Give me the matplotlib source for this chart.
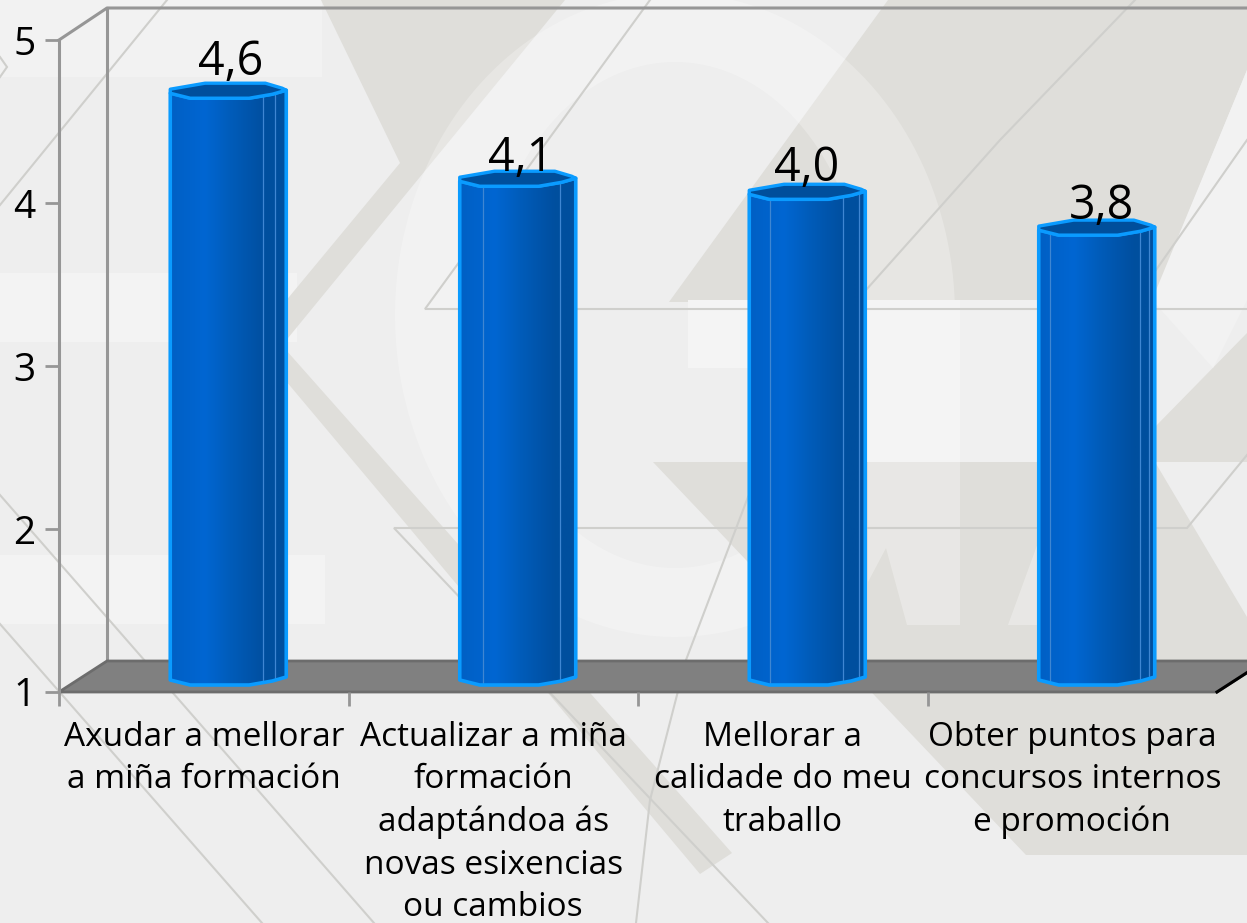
import numpy as np
import matplotlib
matplotlib.use('Agg')
import matplotlib.pyplot as plt
from matplotlib.colors import LinearSegmentedColormap
from matplotlib.patches import Polygon, Rectangle, PathPatch
from matplotlib.path import Path

plt.rcParams['font.family'] = ['Open Sans', 'DejaVu Sans']

categories = ['Axudar a mellorar\na miña formación',
              'Actualizar a miña\nformación\nadaptándoa ás\nnovas esixencias\nou cambios',
              'Mellorar a\ncalidade do meu\ntraballo',
              'Obter puntos para\nconcursos internos\ne promoción']
values = [4.6, 4.06, 3.98, 3.76]
y_ticks = [1, 2, 3, 4, 5]

W, H = 1247, 923
GREY = '#969696'
DARK = '#dfdeda'
THIN = '#cfcfcc'

fig = plt.figure(figsize=(W / 100, H / 100), dpi=100, facecolor='#eeeeee')

# fondo: marca de agua, en pixeles
bg = fig.add_axes([0, 0, 1, 1], zorder=0)
bg.set_xlim(0, W)
bg.set_ylim(H, 0)
bg.axis('off')


def shape(pts, color, alpha=1.0, z=1):
    bg.add_patch(Polygon(pts, closed=True, fc=color, ec='none', alpha=alpha, zorder=z))


def box(x0, y0, x1, y1, color, z=1):
    bg.add_patch(Rectangle((x0, y0), x1 - x0, y1 - y0, fc=color, ec='none', zorder=z))


box(0, 0, 322, 77, '#f2f2f2')
box(0, 273, 297, 342, '#f3f3f3')
box(0, 555, 325, 624, '#f3f3f3')

# K
shape([(321, 0), (565, 0), (270, 360), (270, 320), (400, 163)], DARK, z=2)

# formas da dereita
shape([(669, 302), (888, 0), (1247, 0), (1247, 70), (1152, 302)], DARK, z=2)
shape([(1152, 430), (1247, 333), (1247, 462), (1152, 462)], DARK, z=2)
shape([(1247, 70), (1152, 300), (1213, 368), (1247, 300)], '#f2f2f2', z=2)

# anel
t = np.linspace(0, 2 * np.pi, 200)
outer = np.column_stack([675 + 280 * np.cos(t), 315 + 322 * np.sin(t)])
inner = np.column_stack([675 + 190 * np.cos(t), 315 + 253 * np.sin(t)])[::-1]
ring = Path(np.vstack([outer, inner]),
            [Path.MOVETO] + [Path.LINETO] * 199 + [Path.MOVETO] + [Path.LINETO] * 199)
bg.add_patch(PathPatch(ring, fc='#ffffff', ec='none', alpha=0.25, zorder=3))

# por riba do anel
shape([(270, 332), (732, 853), (700, 874), (270, 362)], DARK, z=4)
shape([(653, 462), (1155, 462), (1247, 617), (1247, 855), (1026, 855)], DARK, z=4)
shape([(868, 462), (960, 462), (960, 625), (907, 625), (886, 548), (868, 582)], '#ffffff', 0.3, z=5)
shape([(1039, 540), (1039, 625), (1008, 625)], '#ffffff', 0.3, z=5)
box(688, 300, 960, 368, '#f4f4f4', z=5)
box(868, 368, 960, 462, '#f4f4f4', z=5)
box(960, 300, 1155, 462, '#f0f0f0', z=5)

# linas finas
thin_lines = [
    [(167, 0), (0, 205)],
    [(0, 57), (7, 67), (0, 77)],
    [(650, 0), (425, 309), (1247, 309)],
    [(1135, 0), (1000, 140), (866, 290), (800, 400), (748, 497), (686, 660), (650, 800), (636, 923)],
    [(1247, 140), (1156, 270), (1120, 309)],
    [(768, 923), (394, 528), (1187, 528), (1247, 455)],
    [(0, 495), (374, 923)],
    [(0, 624), (262, 923)],
]
for pts in thin_lines:
    xs, ys = zip(*pts)
    bg.plot(xs, ys, color=THIN, lw=1.5, zorder=6, solid_joinstyle='miter')

# grafico
ax = fig.add_axes([59 / W, (H - 692) / H, (1217 - 59) / W, 652 / H], zorder=1)
ax.patch.set_alpha(0)
x = np.arange(len(values))
ax.set_xlim(-0.5, 3.5)
ax.set_ylim(1, 5)

for side in ['top', 'right', 'bottom']:
    ax.spines[side].set_visible(False)
ax.spines['left'].set_color(GREY)
ax.spines['left'].set_linewidth(2.2)

ax.set_yticks(y_ticks)
ax.set_xticks(x, categories)
ax.set_xticks(np.arange(-0.5, 3.0, 1.0), minor=True)
ax.tick_params(axis='y', length=10, width=2, color=GREY, labelsize=28, pad=7)
ax.tick_params(axis='x', which='major', length=0, labelsize=24, pad=21)
ax.tick_params(axis='x', which='minor', length=10, width=2, color=GREY)
for lab in ax.get_xticklabels():
    lab.set_linespacing(1.37)

# paredes e chan
DEPTH_X = 48 / 289.5
DEPTH_Y = 31 / 163.0
TOP_Y = 5 + 32 / 163.0
ax.plot([-0.5 + DEPTH_X] * 2, [1 + DEPTH_Y, TOP_Y], color=GREY, lw=2.2, clip_on=False, zorder=1)
ax.plot([-0.5, -0.5 + DEPTH_X, 3.5 + DEPTH_X], [5, TOP_Y, TOP_Y], color=GREY, lw=2.2, clip_on=False, zorder=1)
floor = [(-0.5, 1), (-0.5 + DEPTH_X, 1 + DEPTH_Y), (3.5 + DEPTH_X, 1 + DEPTH_Y), (3.5, 1)]
ax.add_patch(Polygon(floor, closed=True, fc='#808080', ec='#6c6c6c', lw=2, clip_on=False, zorder=1))
ax.plot([3.5, 3.5 + DEPTH_X], [1, 1 + DEPTH_Y], color='black', lw=2.2, clip_on=False, zorder=2)

# barras
BAR_SHIFT = 24.5 / 289.5
BAR_HALF = 58 / 289.5
BAR_LIFT = 14 / 163.0
front_u = np.array([-1, -0.655, 0.36, 0.76, 1.0])
front_dy = np.array([-2, -7, -7, -3, 1]) / 163.0
back_u = np.array([-1, -0.4, 0.64, 0.93, 1.0])
back_dy = np.array([2, 8, 8, 3, 1]) / 163.0

body_cmap = LinearSegmentedColormap.from_list('body', [
    (0.0, '#0060c4'), (0.12, '#0062ca'), (0.3, '#0066d2'), (0.5, '#005dbc'),
    (0.7, '#0054aa'), (0.82, '#004f9f'), (1.0, '#004f9e')])
grad = np.linspace(0, 1, 128).reshape(1, -1)

facets = [[0.8, 0.9], [0.2, 0.86], [0.18, 0.81, 0.95], [0.1, 0.87, 0.95]]
label_lift = [16, 8, 11, 9]
label_shift = [2, 3, -1, 5]

for i, v in enumerate(values):
    cx = x[i] + BAR_SHIFT
    top = v + BAR_LIFT
    base = 1 + BAR_LIFT
    fx = cx + front_u * BAR_HALF
    bx = cx + back_u * BAR_HALF

    outline = list(zip(fx, base + front_dy)) + list(zip(fx[::-1], top + front_dy[::-1]))
    body = Polygon(outline, closed=True, fc='none', ec='#0a9bff', lw=2.6, zorder=4, clip_on=False, joinstyle='round')
    ax.add_patch(body)
    im = ax.imshow(grad, extent=[cx - BAR_HALF, cx + BAR_HALF, base - 0.05, top + 0.05],
                   aspect='auto', cmap=body_cmap, vmin=0, vmax=1, zorder=3, interpolation='bilinear')
    im.set_clip_path(Polygon(outline, closed=True, transform=ax.transData))

    for f in facets[i]:
        fu = 2 * f - 1
        ax.plot([cx + fu * BAR_HALF] * 2,
                [base + np.interp(fu, front_u, front_dy), top + np.interp(fu, front_u, front_dy)],
                color='#3f86d2', lw=0.9, zorder=3.5)

    cap = list(zip(fx, top + front_dy)) + list(zip(bx[::-1], top + back_dy[::-1]))
    ax.add_patch(Polygon(cap, closed=True, fc='#004f9c', ec='#0a9bff', lw=2.4, zorder=5, clip_on=False, joinstyle='round'))

    ax.annotate(f'{v:.1f}'.replace('.', ','), (cx, top), xytext=(label_shift[i] * 0.72, label_lift[i] * 0.72),
                textcoords='offset points', ha='center', va='baseline', fontsize=33.5, color='black', zorder=6)

ax.set_xlim(-0.5, 3.5)
ax.set_ylim(1, 5)

fig.savefig('out.png', dpi=100, facecolor=fig.get_facecolor())
